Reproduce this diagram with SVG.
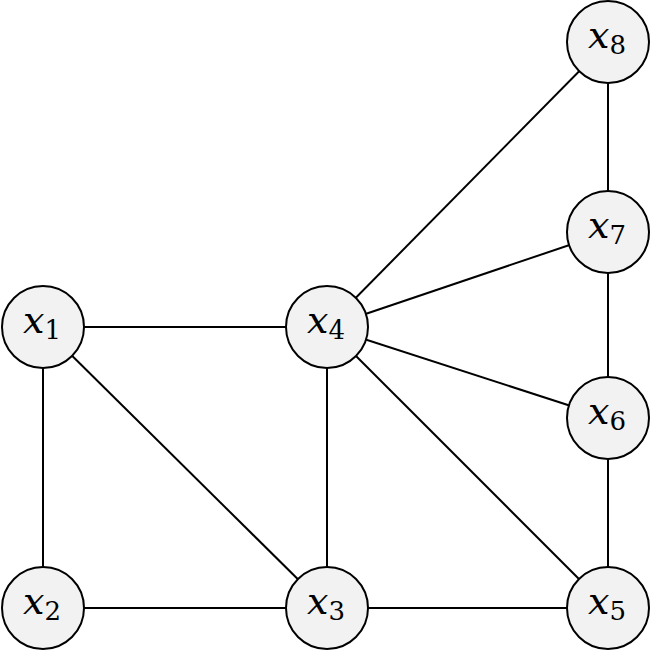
<svg xmlns="http://www.w3.org/2000/svg" width="652" height="653" viewBox="0 0 652 653">
<style>
.e{stroke:#000;stroke-width:2;fill:none}
.n circle{fill:#f2f2f2;stroke:#000;stroke-width:2}
.n text{font-family:"DejaVu Serif",serif;font-size:38px;text-anchor:middle;fill:#000}
.v{font-style:italic}
.s{font-size:26px}
</style>
<rect width="652" height="653" fill="#fff"/>
<g id="edges">
<line class="e" x1="43" y1="327" x2="327" y2="327"/>
<line class="e" x1="43" y1="327" x2="43" y2="608"/>
<line class="e" x1="43" y1="327" x2="327" y2="608"/>
<line class="e" x1="43" y1="608" x2="327" y2="608"/>
<line class="e" x1="327" y1="327" x2="327" y2="608"/>
<line class="e" x1="327" y1="608" x2="608" y2="608"/>
<line class="e" x1="327" y1="327" x2="608" y2="608"/>
<line class="e" x1="327" y1="327" x2="608" y2="418"/>
<line class="e" x1="327" y1="327" x2="608" y2="232"/>
<line class="e" x1="327" y1="327" x2="608" y2="42"/>
<line class="e" x1="608" y1="42" x2="608" y2="232"/>
<line class="e" x1="608" y1="232" x2="608" y2="418"/>
<line class="e" x1="608" y1="418" x2="608" y2="608"/>
</g>
<g id="x1" class="n"><circle cx="43" cy="327" r="41"/><text x="42" y="333"><tspan class="v">x</tspan><tspan class="s" dy="6">1</tspan></text></g>
<g id="x2" class="n"><circle cx="43" cy="608" r="41"/><text x="42" y="614"><tspan class="v">x</tspan><tspan class="s" dy="6">2</tspan></text></g>
<g id="x3" class="n"><circle cx="327" cy="608" r="41"/><text x="326" y="614"><tspan class="v">x</tspan><tspan class="s" dy="6">3</tspan></text></g>
<g id="x4" class="n"><circle cx="327" cy="327" r="41"/><text x="326" y="333"><tspan class="v">x</tspan><tspan class="s" dy="6">4</tspan></text></g>
<g id="x5" class="n"><circle cx="608" cy="608" r="41"/><text x="607" y="614"><tspan class="v">x</tspan><tspan class="s" dy="6">5</tspan></text></g>
<g id="x6" class="n"><circle cx="608" cy="418" r="41"/><text x="607" y="424"><tspan class="v">x</tspan><tspan class="s" dy="6">6</tspan></text></g>
<g id="x7" class="n"><circle cx="608" cy="232" r="41"/><text x="607" y="238"><tspan class="v">x</tspan><tspan class="s" dy="6">7</tspan></text></g>
<g id="x8" class="n"><circle cx="608" cy="42" r="41"/><text x="607" y="48"><tspan class="v">x</tspan><tspan class="s" dy="6">8</tspan></text></g>
</svg>
